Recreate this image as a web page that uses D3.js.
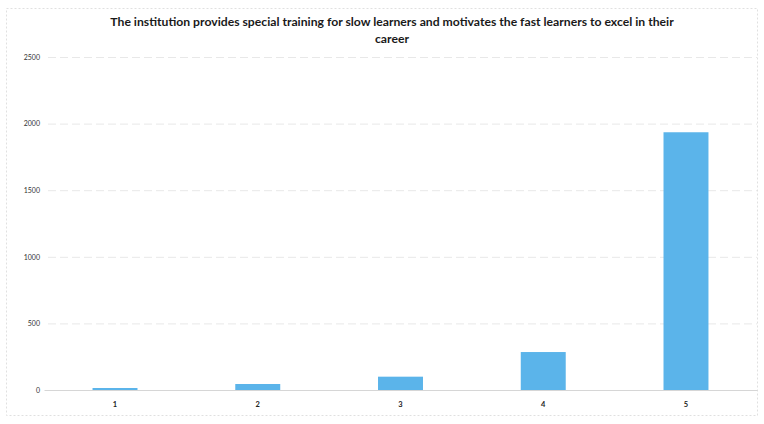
<!DOCTYPE html>
<html><head><meta charset="utf-8">
<script src="https://cdn.jsdelivr.net/npm/d3@7"></script>
<style>body{margin:0;background:#fff}svg{display:block}</style>
</head><body>
<svg id="c" width="764" height="424"></svg>
<script>
const categories = ["1","2","3","4","5"];
const values = [15, 45, 100, 285, 1935];
const yTicks = [0, 500, 1000, 1500, 2000, 2500];
const titleLines = ["The institution provides special training for slow learners and motivates the fast learners to excel in their", "career"];

const svg = d3.select("#c");
const W = 764, H = 424;
const m = {left: 44, right: 7, top: 57, bottom: 34};
const x = d3.scaleBand().domain(categories).range([m.left, W - m.right]).paddingInner(0.685).paddingOuter(0.34);
const y = d3.scaleLinear().domain([0, 2500]).range([H - m.bottom, m.top]);

svg.append("rect").attr("x", 6.5).attr("y", 8.5).attr("width", 751).attr("height", 407)
  .attr("fill", "none").attr("stroke", "#e0e0e0").attr("stroke-width", 1).attr("stroke-dasharray", "2,2");

const yAxis = d3.axisLeft(y).tickValues(yTicks).tickFormat(d3.format("d")).tickSize(-(W - m.left - m.right - 4)).tickPadding(8);
const gy = svg.append("g").attr("transform", `translate(${m.left + 4},0)`).call(yAxis);
gy.select(".domain").remove();
gy.selectAll(".tick line").attr("stroke", "#e8e8e8").attr("stroke-dasharray", "8,4");
gy.selectAll(".tick text").attr("font-family", "Lato, 'Open Sans', sans-serif").attr("font-size", 7).attr("fill", "#333");

svg.append("g").selectAll("rect").data(values).join("rect")
  .attr("x", (d, i) => x(categories[i]))
  .attr("width", x.bandwidth())
  .attr("y", d => y(d))
  .attr("height", d => y(0) - y(d))
  .attr("fill", "#5bb4ea");

const xAxis = d3.axisBottom(x).tickSize(0).tickPadding(12);
const gx = svg.append("g").attr("transform", `translate(0,${y(0)})`).call(xAxis);
gx.select(".domain").attr("stroke", "#d6d6d6");
gx.selectAll(".tick text").attr("font-family", "Lato, 'Open Sans', sans-serif").attr("font-size", 7.5).attr("font-weight", "bold").attr("fill", "#222");

svg.append("g").selectAll("text").data(titleLines).join("text")
  .attr("x", 392).attr("y", (d, i) => 26 + i * 17)
  .attr("text-anchor", "middle")
  .attr("font-family", "Lato, 'Open Sans', sans-serif")
  .attr("font-weight", "bold").attr("font-size", 12.2).attr("fill", "#1a1a1a")
  .text(d => d);
</script>
</body></html>
